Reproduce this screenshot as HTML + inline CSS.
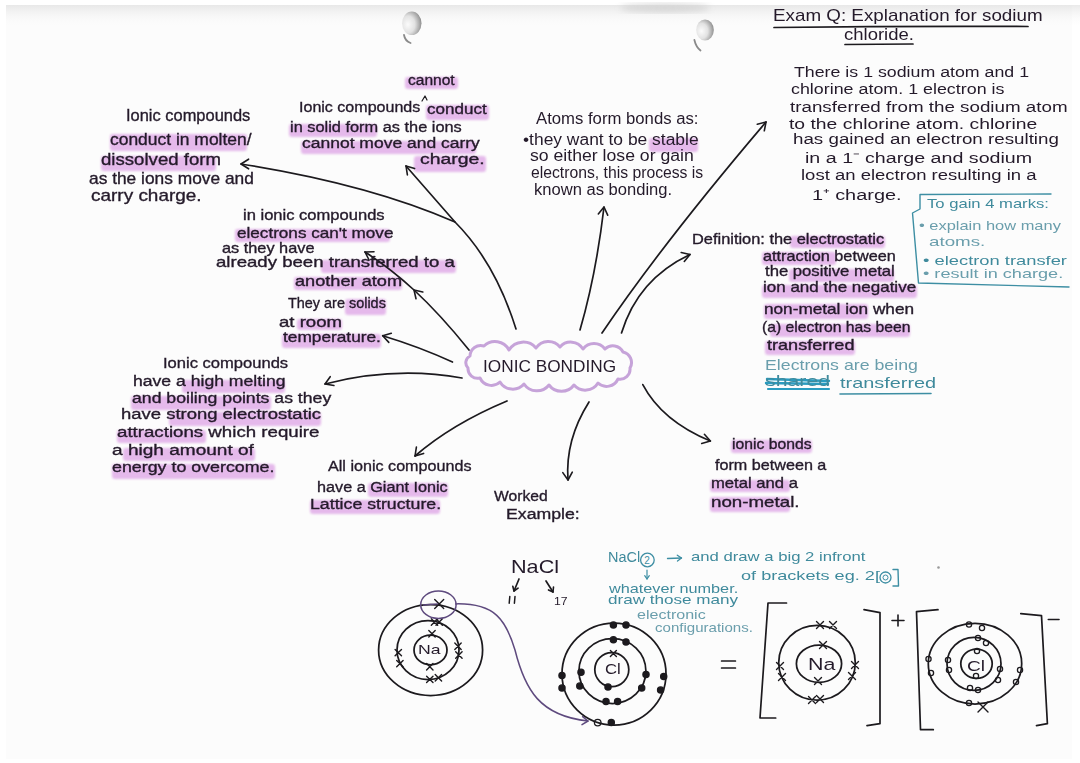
<!DOCTYPE html>
<html><head><meta charset="utf-8"><style>
html,body{margin:0;padding:0;}
body{width:1080px;height:763px;position:relative;overflow:hidden;background:#ffffff;font-family:'Liberation Sans', sans-serif;}
.t{position:absolute;white-space:pre;line-height:1;transform-origin:0 0;}
.b{-webkit-text-stroke:0.35px currentColor;}
.h{position:absolute;background:rgba(214,140,224,0.6);border-radius:3px;filter:blur(0.8px);}
svg{position:absolute;left:0;top:0;}
</style></head><body>

<div style="position:absolute;left:6px;top:5px;width:1066px;height:754px;background:#fcfcfc"></div>
<div class="h" style="left:110px;top:134.0px;width:137px;height:17.0px"></div>
<div class="h" style="left:101px;top:156.0px;width:115px;height:14.5px"></div>
<div class="h" style="left:405px;top:77.0px;width:53px;height:12.0px"></div>
<div class="h" style="left:426px;top:105.0px;width:63px;height:15.0px"></div>
<div class="h" style="left:289px;top:124.0px;width:88px;height:13.0px"></div>
<div class="h" style="left:301px;top:141.0px;width:175px;height:13.0px"></div>
<div class="h" style="left:414px;top:156.0px;width:72px;height:16.0px"></div>
<div class="h" style="left:235px;top:229.0px;width:155px;height:13.0px"></div>
<div class="h" style="left:321px;top:260.0px;width:135px;height:13.0px"></div>
<div class="h" style="left:294px;top:277.0px;width:108px;height:13.0px"></div>
<div class="h" style="left:345px;top:299.0px;width:41px;height:16.0px"></div>
<div class="h" style="left:297px;top:318.5px;width:45px;height:11.5px"></div>
<div class="h" style="left:282px;top:334.0px;width:99px;height:14.0px"></div>
<div class="h" style="left:649px;top:137.6px;width:49px;height:14.4px"></div>
<div class="h" style="left:790px;top:236.0px;width:95px;height:12.3px"></div>
<div class="h" style="left:762px;top:252.0px;width:74px;height:13.3px"></div>
<div class="h" style="left:789px;top:269.0px;width:105px;height:13.3px"></div>
<div class="h" style="left:762px;top:284.7px;width:155px;height:13.3px"></div>
<div class="h" style="left:764px;top:304.0px;width:104px;height:14.6px"></div>
<div class="h" style="left:770px;top:323.5px;width:140px;height:13.3px"></div>
<div class="h" style="left:765px;top:340.5px;width:90px;height:14.5px"></div>
<div class="h" style="left:182px;top:379.5px;width:103px;height:13.2px"></div>
<div class="h" style="left:131px;top:396.3px;width:140px;height:13.3px"></div>
<div class="h" style="left:169px;top:412.0px;width:152px;height:14.4px"></div>
<div class="h" style="left:117px;top:430.0px;width:89px;height:13.0px"></div>
<div class="h" style="left:123px;top:448.0px;width:132px;height:13.0px"></div>
<div class="h" style="left:112px;top:463.7px;width:163px;height:15.7px"></div>
<div class="h" style="left:368px;top:483.0px;width:80px;height:14.0px"></div>
<div class="h" style="left:310px;top:500.0px;width:130px;height:14.0px"></div>
<div class="h" style="left:731px;top:439.7px;width:81px;height:13.3px"></div>
<div class="h" style="left:710px;top:479.7px;width:80px;height:12.3px"></div>
<div class="h" style="left:710px;top:497.4px;width:80px;height:14.6px"></div>
<svg width="1080" height="763" viewBox="0 0 1080 763"><defs><radialGradient id="ph" cx="0.3" cy="0.55" r="0.8"><stop offset="0" stop-color="#fbfbfb"/><stop offset="0.45" stop-color="#e2e2e2"/><stop offset="0.8" stop-color="#a0a0a0"/><stop offset="1" stop-color="#6a6a6a"/></radialGradient><filter id="bl1"><feGaussianBlur stdDeviation="0.6"/></filter><filter id="bl"><feGaussianBlur stdDeviation="3"/></filter><linearGradient id="sh" x1="0" y1="0" x2="0" y2="1"><stop offset="0" stop-color="#cfcfcf"/><stop offset="1" stop-color="#fbfbfb" stop-opacity="0"/></linearGradient></defs><rect x="6" y="5" width="1074" height="22" fill="url(#sh)" opacity="0.45"/><ellipse cx="665" cy="8" rx="45" ry="5" fill="#c4c4c4" opacity="0.55" filter="url(#bl)"/><ellipse cx="411.8" cy="23.3" rx="9.7" ry="11.8" fill="url(#ph)" filter="url(#bl1)"/><ellipse cx="705" cy="30" rx="8.8" ry="10.6" fill="url(#ph)" filter="url(#bl1)"/><path d="M404,35 Q405,41 410.6,43" stroke="#8a8a8a" stroke-width="1.8" fill="none" stroke-linecap="round" stroke-linejoin="round" /><path d="M694.4,40 Q696,47 700.5,50.5" stroke="#8a8a8a" stroke-width="1.8" fill="none" stroke-linecap="round" stroke-linejoin="round" /><path d="M516,329 Q495,262 455,222 Q368,184 241,164" stroke="#1c1a1e" stroke-width="1.7" fill="none" stroke-linecap="round" stroke-linejoin="round" /><path d="M248.6,168.8 L241,164 L248.6,159.2" stroke="#1c1a1e" stroke-width="1.6" fill="none" stroke-linecap="round" stroke-linejoin="round" /><path d="M455,222 L406,166" stroke="#1c1a1e" stroke-width="1.7" fill="none" stroke-linecap="round" stroke-linejoin="round" /><path d="M407.4,174.9 L406,166 L414.6,168.6" stroke="#1c1a1e" stroke-width="1.6" fill="none" stroke-linecap="round" stroke-linejoin="round" /><path d="M469,350 Q440,314 414,290 Q390,268 365,252" stroke="#1c1a1e" stroke-width="1.7" fill="none" stroke-linecap="round" stroke-linejoin="round" /><path d="M369.1,260.0 L365,252 L374.0,251.8" stroke="#1c1a1e" stroke-width="1.6" fill="none" stroke-linecap="round" stroke-linejoin="round" /><path d="M416.0,298.8 L414,290 L422.8,292.0" stroke="#1c1a1e" stroke-width="1.6" fill="none" stroke-linecap="round" stroke-linejoin="round" /><path d="M452.5,362 Q420,347 382.7,335.7" stroke="#1c1a1e" stroke-width="1.7" fill="none" stroke-linecap="round" stroke-linejoin="round" /><path d="M388.8,342.4 L382.7,335.7 L391.3,333.2" stroke="#1c1a1e" stroke-width="1.6" fill="none" stroke-linecap="round" stroke-linejoin="round" /><path d="M462,378 Q395,366 325,384" stroke="#1c1a1e" stroke-width="1.7" fill="none" stroke-linecap="round" stroke-linejoin="round" /><path d="M333.9,385.5 L325,384 L330.2,376.7" stroke="#1c1a1e" stroke-width="1.6" fill="none" stroke-linecap="round" stroke-linejoin="round" /><path d="M507,401 Q452,424 415,456" stroke="#1c1a1e" stroke-width="1.7" fill="none" stroke-linecap="round" stroke-linejoin="round" /><path d="M423.6,453.4 L415,456 L416.4,447.1" stroke="#1c1a1e" stroke-width="1.6" fill="none" stroke-linecap="round" stroke-linejoin="round" /><path d="M589,402 Q565,440 568,480" stroke="#1c1a1e" stroke-width="1.7" fill="none" stroke-linecap="round" stroke-linejoin="round" /><path d="M572.3,472.1 L568,480 L562.8,472.6" stroke="#1c1a1e" stroke-width="1.6" fill="none" stroke-linecap="round" stroke-linejoin="round" /><path d="M642.8,384.6 Q662,421 710.4,441" stroke="#1c1a1e" stroke-width="1.7" fill="none" stroke-linecap="round" stroke-linejoin="round" /><path d="M704.4,434.3 L710.4,441 L701.7,443.5" stroke="#1c1a1e" stroke-width="1.6" fill="none" stroke-linecap="round" stroke-linejoin="round" /><path d="M580,330 Q596,275 604,207" stroke="#1c1a1e" stroke-width="1.7" fill="none" stroke-linecap="round" stroke-linejoin="round" /><path d="M598.3,213.9 L604,207 L607.7,215.2" stroke="#1c1a1e" stroke-width="1.6" fill="none" stroke-linecap="round" stroke-linejoin="round" /><path d="M602,333 Q663,243 766,122" stroke="#1c1a1e" stroke-width="1.7" fill="none" stroke-linecap="round" stroke-linejoin="round" /><path d="M757.3,124.3 L766,122 L764.3,130.8" stroke="#1c1a1e" stroke-width="1.6" fill="none" stroke-linecap="round" stroke-linejoin="round" /><path d="M621.5,333 Q638,279 690,254.5" stroke="#1c1a1e" stroke-width="1.7" fill="none" stroke-linecap="round" stroke-linejoin="round" /><path d="M681.2,252.5 L690,254.5 L684.3,261.5" stroke="#1c1a1e" stroke-width="1.6" fill="none" stroke-linecap="round" stroke-linejoin="round" /><path d="M470,356 A10.7,10.7 0 0 1 484,346 A15.7,15.7 0 0 1 509,350 A16.8,16.8 0 0 1 536,348 A14.9,14.9 0 0 1 560,347 A14.3,14.3 0 0 1 583,349 A13.6,13.6 0 0 1 605,349 A11.3,11.3 0 0 1 623,352 A10.8,10.8 0 0 1 630,368 A10.1,10.1 0 0 1 618,379 A12.6,12.6 0 0 1 598,383 A14.9,14.9 0 0 1 574,385 A15.5,15.5 0 0 1 549,385 A15.5,15.5 0 0 1 524,384 A14.9,14.9 0 0 1 500,382 A12.6,12.6 0 0 1 480,378 A9.7,9.7 0 0 1 468,368 A7.5,7.5 0 0 1 470,356 Z" stroke="#c6a3d9" stroke-width="3.0" fill="none" stroke-linecap="round" stroke-linejoin="round" /><path d="M774,27.5 Q900,26 1028,26.5" stroke="#1c1a1e" stroke-width="1.7" fill="none" stroke-linecap="round" stroke-linejoin="round" /><path d="M845,44.5 L913,44" stroke="#1c1a1e" stroke-width="1.7" fill="none" stroke-linecap="round" stroke-linejoin="round" /><path d="M1051,194 L920,194.5 L920,209 L912.5,213 L918.5,283 L1069,287" stroke="#3d8ea3" stroke-width="1.4" fill="none" stroke-linecap="round" stroke-linejoin="round" /><path d="M767,379 L829,381 M766,383 L828,384" stroke="#2a9cc0" stroke-width="2.4" fill="none" stroke-linecap="round" stroke-linejoin="round" /><path d="M768,389 L829,389" stroke="#2a9cc0" stroke-width="2.2" fill="none" stroke-linecap="round" stroke-linejoin="round" /><path d="M840,394 L931,393.5" stroke="#3d8ea3" stroke-width="1.6" fill="none" stroke-linecap="round" stroke-linejoin="round" /><circle cx="647.4" cy="560" r="6.8" stroke="#3d8ea3" stroke-width="1.3" fill="none"/><text x="644.3" y="564" font-family="Liberation Sans" font-size="10" fill="#3d8ea3">2</text><path d="M667.5,558.5 L681.5,558" stroke="#3d8ea3" stroke-width="1.3" fill="none" stroke-linecap="round" stroke-linejoin="round" /><path d="M677.3,555.2 L681.5,558 L677.5,561.0" stroke="#3d8ea3" stroke-width="1.3" fill="none" stroke-linecap="round" stroke-linejoin="round" /><path d="M647,570 L647,579" stroke="#3d8ea3" stroke-width="1.2" fill="none" stroke-linecap="round" stroke-linejoin="round" /><path d="M649.3,575.7 L647,579 L644.7,575.7" stroke="#3d8ea3" stroke-width="1.2" fill="none" stroke-linecap="round" stroke-linejoin="round" /><circle cx="885.5" cy="577.5" r="5.5" stroke="#3d8ea3" stroke-width="1.3" fill="none"/><circle cx="885.5" cy="577.5" r="2.5" stroke="#3d8ea3" stroke-width="1" fill="none"/><path d="M893,569.5 L898,569.5 L898.5,586 L893,586" stroke="#3d8ea3" stroke-width="1.4" fill="none" stroke-linecap="round" stroke-linejoin="round" /><circle cx="938.5" cy="567.5" r="1.3" fill="#999"/><path d="M422,101 L425,96 L427,100" stroke="#1c1a1e" stroke-width="1.2" fill="none" stroke-linecap="round" stroke-linejoin="round" /><path d="M509.8,596.5 L509.2,603.2 M515,596.5 L514.4,603.2" stroke="#1c1a1e" stroke-width="1.5" fill="none" stroke-linecap="round" stroke-linejoin="round" /><path d="M519,579 L514,591" stroke="#1c1a1e" stroke-width="1.7" fill="none" stroke-linecap="round" stroke-linejoin="round" /><path d="M518.1,588.2 L514,591 L512.8,586.2" stroke="#1c1a1e" stroke-width="1.6" fill="none" stroke-linecap="round" stroke-linejoin="round" /><path d="M546,581 L553,592" stroke="#1c1a1e" stroke-width="1.7" fill="none" stroke-linecap="round" stroke-linejoin="round" /><path d="M553.5,587.0 L553,592 L548.5,589.9" stroke="#1c1a1e" stroke-width="1.6" fill="none" stroke-linecap="round" stroke-linejoin="round" /><ellipse cx="430.6" cy="650" rx="52" ry="45.5" stroke="#1c1a1e" stroke-width="1.75" fill="none" transform="rotate(0 430.6 650)"/><ellipse cx="428" cy="650" rx="31" ry="29.5" stroke="#1c1a1e" stroke-width="1.75" fill="none" transform="rotate(0 428 650)"/><ellipse cx="430.5" cy="650" rx="16.5" ry="14.8" stroke="#1c1a1e" stroke-width="1.75" fill="none" transform="rotate(0 430.5 650)"/><path d="M431.3,618.8 L437.7,625.2 M437.7,618.8 L431.3,625.2" stroke="#1c1a1e" stroke-width="1.4" fill="none" stroke-linecap="round" stroke-linejoin="round" /><path d="M436.0,618.8 L442.4,625.2 M442.4,618.8 L436.0,625.2" stroke="#1c1a1e" stroke-width="1.4" fill="none" stroke-linecap="round" stroke-linejoin="round" /><path d="M428.8,630.5999999999999 L435.2,637.0 M435.2,630.5999999999999 L428.8,637.0" stroke="#1c1a1e" stroke-width="1.4" fill="none" stroke-linecap="round" stroke-linejoin="round" /><path d="M395.1,649.4 L401.5,655.8000000000001 M401.5,649.4 L395.1,655.8000000000001" stroke="#1c1a1e" stroke-width="1.4" fill="none" stroke-linecap="round" stroke-linejoin="round" /><path d="M396.7,660.4 L403.09999999999997,666.8000000000001 M403.09999999999997,660.4 L396.7,666.8000000000001" stroke="#1c1a1e" stroke-width="1.4" fill="none" stroke-linecap="round" stroke-linejoin="round" /><path d="M454.8,643.0999999999999 L461.2,649.5 M461.2,643.0999999999999 L454.8,649.5" stroke="#1c1a1e" stroke-width="1.4" fill="none" stroke-linecap="round" stroke-linejoin="round" /><path d="M455.7,651.8 L462.09999999999997,658.2 M462.09999999999997,651.8 L455.7,658.2" stroke="#1c1a1e" stroke-width="1.4" fill="none" stroke-linecap="round" stroke-linejoin="round" /><path d="M426.6,663.5999999999999 L433.0,670.0 M433.0,663.5999999999999 L426.6,670.0" stroke="#1c1a1e" stroke-width="1.4" fill="none" stroke-linecap="round" stroke-linejoin="round" /><path d="M426.6,676.1999999999999 L433.0,682.6 M433.0,676.1999999999999 L426.6,682.6" stroke="#1c1a1e" stroke-width="1.4" fill="none" stroke-linecap="round" stroke-linejoin="round" /><path d="M435.2,674.5999999999999 L441.59999999999997,681.0 M441.59999999999997,674.5999999999999 L435.2,681.0" stroke="#1c1a1e" stroke-width="1.4" fill="none" stroke-linecap="round" stroke-linejoin="round" /><path d="M434.7,599.4 L443.7,608.4 M443.7,599.4 L434.7,608.4" stroke="#1c1a1e" stroke-width="1.4" fill="none" stroke-linecap="round" stroke-linejoin="round" /><ellipse cx="438.4" cy="604.7" rx="17.7" ry="13.7" stroke="#5e4a7e" stroke-width="1.5" fill="none"/><path d="M455.7,603.9 C495,603 506,620 515,650 C525,690 540,716 588,721" stroke="#5e4a7e" stroke-width="1.5" fill="none" stroke-linecap="round" stroke-linejoin="round" /><path d="M582.6,716.6 L588,721 L582.0,724.6" stroke="#5e4a7e" stroke-width="1.5" fill="none" stroke-linecap="round" stroke-linejoin="round" /><path d="M423.5,605 L437.6,603.9" stroke="#5e4a7e" stroke-width="1.4" fill="none" stroke-linecap="round" stroke-linejoin="round" /><ellipse cx="614" cy="674" rx="52" ry="51" stroke="#1c1a1e" stroke-width="1.75" fill="none" transform="rotate(0 614 674)"/><ellipse cx="612.4" cy="671" rx="33.5" ry="32.5" stroke="#1c1a1e" stroke-width="1.75" fill="none" transform="rotate(0 612.4 671)"/><ellipse cx="611.8" cy="669.6" rx="17" ry="17" stroke="#1c1a1e" stroke-width="1.75" fill="none" transform="rotate(0 611.8 669.6)"/><circle cx="613.4" cy="625" r="3.1" stroke="#1c1a1e" stroke-width="1.3" fill="#1c1a1e"/><circle cx="626" cy="625" r="3.1" stroke="#1c1a1e" stroke-width="1.3" fill="#1c1a1e"/><circle cx="562" cy="675.4" r="3.1" stroke="#1c1a1e" stroke-width="1.3" fill="#1c1a1e"/><circle cx="562" cy="688" r="3.1" stroke="#1c1a1e" stroke-width="1.3" fill="#1c1a1e"/><circle cx="663.7" cy="676.5" r="3.1" stroke="#1c1a1e" stroke-width="1.3" fill="#1c1a1e"/><circle cx="660.6" cy="690" r="3.1" stroke="#1c1a1e" stroke-width="1.3" fill="#1c1a1e"/><circle cx="611.3" cy="722.6" r="3.1" stroke="#1c1a1e" stroke-width="1.3" fill="#1c1a1e"/><circle cx="613.4" cy="639.8" r="3.1" stroke="#1c1a1e" stroke-width="1.3" fill="#1c1a1e"/><circle cx="626" cy="641.9" r="3.1" stroke="#1c1a1e" stroke-width="1.3" fill="#1c1a1e"/><circle cx="581" cy="672.3" r="3.1" stroke="#1c1a1e" stroke-width="1.3" fill="#1c1a1e"/><circle cx="579.8" cy="686" r="3.1" stroke="#1c1a1e" stroke-width="1.3" fill="#1c1a1e"/><circle cx="646" cy="674.4" r="3.1" stroke="#1c1a1e" stroke-width="1.3" fill="#1c1a1e"/><circle cx="641.7" cy="688" r="3.1" stroke="#1c1a1e" stroke-width="1.3" fill="#1c1a1e"/><circle cx="606" cy="701.6" r="3.1" stroke="#1c1a1e" stroke-width="1.3" fill="#1c1a1e"/><circle cx="617.6" cy="701.6" r="3.1" stroke="#1c1a1e" stroke-width="1.3" fill="#1c1a1e"/><circle cx="608" cy="687" r="3.1" stroke="#1c1a1e" stroke-width="1.3" fill="#1c1a1e"/><circle cx="597.7" cy="722.6" r="3.3" stroke="#1c1a1e" stroke-width="1.3" fill="none"/><path d="M610.4,650.4 L616.4,656.4 M616.4,650.4 L610.4,656.4" stroke="#1c1a1e" stroke-width="1.4" fill="none" stroke-linecap="round" stroke-linejoin="round" /><path d="M721.6,661 L735.4,661 M721.6,668 L735.4,668" stroke="#1c1a1e" stroke-width="1.7" fill="none" stroke-linecap="round" stroke-linejoin="round" /><path d="M786.5,603 L768,603 L760,718 L775.7,718" stroke="#1c1a1e" stroke-width="1.7" fill="none" stroke-linecap="round" stroke-linejoin="round" /><path d="M864,609.7 L880,612.6 L880,723.7 L867,725.7" stroke="#1c1a1e" stroke-width="1.7" fill="none" stroke-linecap="round" stroke-linejoin="round" /><path d="M892,620.5 L904,620.5 M898,615 L898,626" stroke="#1c1a1e" stroke-width="1.6" fill="none" stroke-linecap="round" stroke-linejoin="round" /><ellipse cx="817" cy="662.7" rx="38.3" ry="37.3" stroke="#1c1a1e" stroke-width="1.75" fill="none" transform="rotate(0 817 662.7)"/><ellipse cx="819" cy="663.7" rx="22.6" ry="18.7" stroke="#1c1a1e" stroke-width="1.75" fill="none" transform="rotate(0 819 663.7)"/><path d="M816.5,621.5 L823.5,628.5 M823.5,621.5 L816.5,628.5" stroke="#1c1a1e" stroke-width="1.4" fill="none" stroke-linecap="round" stroke-linejoin="round" /><path d="M829.5,621.5 L836.5,628.5 M836.5,621.5 L829.5,628.5" stroke="#1c1a1e" stroke-width="1.4" fill="none" stroke-linecap="round" stroke-linejoin="round" /><path d="M819.5,641.5 L826.5,648.5 M826.5,641.5 L819.5,648.5" stroke="#1c1a1e" stroke-width="1.4" fill="none" stroke-linecap="round" stroke-linejoin="round" /><path d="M776.5,662.5 L783.5,669.5 M783.5,662.5 L776.5,669.5" stroke="#1c1a1e" stroke-width="1.4" fill="none" stroke-linecap="round" stroke-linejoin="round" /><path d="M778.5,673.5 L785.5,680.5 M785.5,673.5 L778.5,680.5" stroke="#1c1a1e" stroke-width="1.4" fill="none" stroke-linecap="round" stroke-linejoin="round" /><path d="M851.5,661.5 L858.5,668.5 M858.5,661.5 L851.5,668.5" stroke="#1c1a1e" stroke-width="1.4" fill="none" stroke-linecap="round" stroke-linejoin="round" /><path d="M848.5,672.5 L855.5,679.5 M855.5,672.5 L848.5,679.5" stroke="#1c1a1e" stroke-width="1.4" fill="none" stroke-linecap="round" stroke-linejoin="round" /><path d="M808.5,696.5 L815.5,703.5 M815.5,696.5 L808.5,703.5" stroke="#1c1a1e" stroke-width="1.4" fill="none" stroke-linecap="round" stroke-linejoin="round" /><path d="M816.5,695.5 L823.5,702.5 M823.5,695.5 L816.5,702.5" stroke="#1c1a1e" stroke-width="1.4" fill="none" stroke-linecap="round" stroke-linejoin="round" /><path d="M814.5,677.5 L821.5,684.5 M821.5,677.5 L814.5,684.5" stroke="#1c1a1e" stroke-width="1.4" fill="none" stroke-linecap="round" stroke-linejoin="round" /><path d="M938,609.7 L916.5,611.6 L920.5,729.7 L933.3,729.7" stroke="#1c1a1e" stroke-width="1.7" fill="none" stroke-linecap="round" stroke-linejoin="round" /><path d="M1020.8,613.6 L1041.5,615.6 L1047.4,723.7 L1036.5,725.7" stroke="#1c1a1e" stroke-width="1.7" fill="none" stroke-linecap="round" stroke-linejoin="round" /><path d="M1048.3,619.5 L1059,619.5" stroke="#1c1a1e" stroke-width="1.6" fill="none" stroke-linecap="round" stroke-linejoin="round" /><ellipse cx="975" cy="663.7" rx="46.7" ry="40.3" stroke="#1c1a1e" stroke-width="1.75" fill="none" transform="rotate(0 975 663.7)"/><ellipse cx="974" cy="663.8" rx="27" ry="26.5" stroke="#1c1a1e" stroke-width="1.75" fill="none" transform="rotate(0 974 663.8)"/><ellipse cx="976.5" cy="663.7" rx="15.7" ry="14.7" stroke="#1c1a1e" stroke-width="1.75" fill="none" transform="rotate(0 976.5 663.7)"/><circle cx="969" cy="624.5" r="2.6" stroke="#1c1a1e" stroke-width="1.3" fill="none"/><circle cx="982" cy="628" r="2.6" stroke="#1c1a1e" stroke-width="1.3" fill="none"/><circle cx="928.5" cy="659" r="2.6" stroke="#1c1a1e" stroke-width="1.3" fill="none"/><circle cx="931" cy="673" r="2.6" stroke="#1c1a1e" stroke-width="1.3" fill="none"/><circle cx="1020" cy="670" r="2.6" stroke="#1c1a1e" stroke-width="1.3" fill="none"/><circle cx="1016" cy="682" r="2.6" stroke="#1c1a1e" stroke-width="1.3" fill="none"/><circle cx="969" cy="703" r="2.6" stroke="#1c1a1e" stroke-width="1.3" fill="none"/><circle cx="978" cy="638" r="2.6" stroke="#1c1a1e" stroke-width="1.3" fill="none"/><circle cx="986" cy="643" r="2.6" stroke="#1c1a1e" stroke-width="1.3" fill="none"/><circle cx="948" cy="660" r="2.6" stroke="#1c1a1e" stroke-width="1.3" fill="none"/><circle cx="949" cy="670" r="2.6" stroke="#1c1a1e" stroke-width="1.3" fill="none"/><circle cx="1000" cy="669" r="2.6" stroke="#1c1a1e" stroke-width="1.3" fill="none"/><circle cx="998" cy="680" r="2.6" stroke="#1c1a1e" stroke-width="1.3" fill="none"/><circle cx="970" cy="688" r="2.6" stroke="#1c1a1e" stroke-width="1.3" fill="none"/><circle cx="978" cy="690" r="2.6" stroke="#1c1a1e" stroke-width="1.3" fill="none"/><circle cx="977" cy="651" r="2.6" stroke="#1c1a1e" stroke-width="1.3" fill="none"/><circle cx="976" cy="676" r="2.6" stroke="#1c1a1e" stroke-width="1.3" fill="none"/><path d="M978,702 L988,712 M988,702 L978,712" stroke="#1c1a1e" stroke-width="1.4" fill="none" stroke-linecap="round" stroke-linejoin="round" /></svg>
<div class="t b" style="left:126.4px;top:107.3px;font-size:17.00px;color:#241a2a;transform:scaleX(0.967)">Ionic compounds</div>
<div class="t b" style="left:110.3px;top:130.5px;font-size:17.00px;color:#241a2a;transform:scaleX(1.026)">conduct in molten/</div>
<div class="t b" style="left:101.3px;top:151.3px;font-size:17.00px;color:#241a2a;transform:scaleX(1.095)">dissolved form</div>
<div class="t b" style="left:89.3px;top:169.5px;font-size:17.00px;color:#241a2a;transform:scaleX(1.020)">as the ions move and</div>
<div class="t b" style="left:91.2px;top:186.8px;font-size:17.00px;color:#241a2a;transform:scaleX(1.115)">carry charge.</div>
<div class="t b" style="left:408.4px;top:71.9px;font-size:15.50px;color:#241a2a;transform:scaleX(1.003)">cannot</div>
<div class="t b" style="left:299.4px;top:98.7px;font-size:15.50px;color:#241a2a;transform:scaleX(1.035)">Ionic compounds</div>
<div class="t b" style="left:427.3px;top:101.4px;font-size:15.50px;color:#241a2a;transform:scaleX(1.100)">conduct</div>
<div class="t b" style="left:290.0px;top:119.4px;font-size:15.50px;color:#241a2a;transform:scaleX(1.055)">in solid form as the ions</div>
<div class="t b" style="left:302.3px;top:134.7px;font-size:15.50px;color:#241a2a;transform:scaleX(1.128)">cannot move and carry</div>
<div class="t b" style="left:420.2px;top:151.2px;font-size:15.50px;color:#241a2a;transform:scaleX(1.250)">charge.</div>
<div class="t b" style="left:243.0px;top:206.7px;font-size:15.00px;color:#241a2a;transform:scaleX(1.103)">in ionic compounds</div>
<div class="t b" style="left:237.3px;top:224.7px;font-size:15.00px;color:#241a2a;transform:scaleX(1.141)">electrons can't move</div>
<div class="t b" style="left:222.3px;top:240.0px;font-size:15.00px;color:#241a2a;transform:scaleX(1.087)">as they have</div>
<div class="t b" style="left:216.3px;top:254.0px;font-size:15.00px;color:#241a2a;transform:scaleX(1.240)">already been transferred to a</div>
<div class="t b" style="left:295.3px;top:272.7px;font-size:15.00px;color:#241a2a;transform:scaleX(1.211)">another atom</div>
<div class="t b" style="left:287.7px;top:294.5px;font-size:15.00px;color:#241a2a;transform:scaleX(0.962)">They are solids</div>
<div class="t b" style="left:279.3px;top:313.5px;font-size:15.00px;color:#241a2a;transform:scaleX(1.240)">at room</div>
<div class="t b" style="left:282.7px;top:328.5px;font-size:15.00px;color:#241a2a;transform:scaleX(1.151)">temperature.</div>
<div class="t" style="left:535.6px;top:111.4px;font-size:16.00px;color:#241a2a;transform:scaleX(1.044)">Atoms form bonds as:</div>
<div class="t" style="left:522.7px;top:131.7px;font-size:16.00px;color:#241a2a;transform:scaleX(1.089)">•they want to be stable</div>
<div class="t" style="left:529.8px;top:148.4px;font-size:16.00px;color:#241a2a;transform:scaleX(1.103)">so either lose or gain</div>
<div class="t" style="left:531.0px;top:164.6px;font-size:16.00px;color:#241a2a;transform:scaleX(0.983)">electrons, this process is</div>
<div class="t" style="left:533.6px;top:181.5px;font-size:16.00px;color:#241a2a;transform:scaleX(1.035)">known as bonding.</div>
<div class="t" style="left:772.5px;top:6.6px;font-size:17.00px;color:#241a2a;transform:scaleX(1.106)">Exam Q: Explanation for sodium</div>
<div class="t" style="left:844.0px;top:26.2px;font-size:17.00px;color:#241a2a;transform:scaleX(1.088)">chloride.</div>
<div class="t" style="left:793.6px;top:63.9px;font-size:15.20px;color:#241a2a;transform:scaleX(1.170)">There is 1 sodium atom and 1</div>
<div class="t" style="left:790.9px;top:81.0px;font-size:15.20px;color:#241a2a;transform:scaleX(1.176)">chlorine atom. 1 electron is</div>
<div class="t" style="left:790.4px;top:99.1px;font-size:15.20px;color:#241a2a;transform:scaleX(1.236)">transferred from the sodium atom</div>
<div class="t" style="left:789.0px;top:115.8px;font-size:15.20px;color:#241a2a;transform:scaleX(1.273)">to the chlorine atom. chlorine</div>
<div class="t" style="left:792.5px;top:130.7px;font-size:15.20px;color:#241a2a;transform:scaleX(1.235)">has gained an electron resulting</div>
<div class="t" style="left:804.8px;top:150.1px;font-size:15.20px;color:#241a2a;transform:scaleX(1.294)">in a 1⁻ charge and sodium</div>
<div class="t" style="left:800.9px;top:166.8px;font-size:15.20px;color:#241a2a;transform:scaleX(1.218)">lost an electron resulting in a</div>
<div class="t" style="left:812.4px;top:187.0px;font-size:15.20px;color:#241a2a;transform:scaleX(1.311)">1⁺ charge.</div>
<div class="t" style="left:927.2px;top:196.9px;font-size:13.00px;color:#3f8a9c;transform:scaleX(1.278)">To gain 4 marks:</div>
<div class="t" style="left:918.7px;top:219.4px;font-size:13.00px;color:#6a9eac;transform:scaleX(1.264)">• explain how many</div>
<div class="t" style="left:929.2px;top:235.2px;font-size:13.00px;color:#6a9eac;transform:scaleX(1.442)">atoms.</div>
<div class="t" style="left:923.3px;top:253.6px;font-size:13.00px;color:#3f8a9c;transform:scaleX(1.410)">• electron transfer</div>
<div class="t" style="left:923.3px;top:266.9px;font-size:13.00px;color:#6a9eac;transform:scaleX(1.393)">• result in charge.</div>
<div class="t b" style="left:692.0px;top:231.4px;font-size:15.00px;color:#241a2a;transform:scaleX(1.092)">Definition: the electrostatic</div>
<div class="t b" style="left:763.1px;top:247.9px;font-size:15.00px;color:#241a2a;transform:scaleX(1.083)">attraction between</div>
<div class="t b" style="left:764.7px;top:263.1px;font-size:15.00px;color:#241a2a;transform:scaleX(1.112)">the positive metal</div>
<div class="t b" style="left:762.7px;top:278.8px;font-size:15.00px;color:#241a2a;transform:scaleX(1.133)">ion and the negative</div>
<div class="t b" style="left:764.0px;top:300.5px;font-size:15.00px;color:#241a2a;transform:scaleX(1.146)">non-metal ion when</div>
<div class="t b" style="left:761.6px;top:319.4px;font-size:15.00px;color:#241a2a;transform:scaleX(1.048)">(a) electron has been</div>
<div class="t b" style="left:766.9px;top:337.0px;font-size:15.00px;color:#241a2a;transform:scaleX(1.206)">transferred</div>
<div class="t" style="left:764.6px;top:357.1px;font-size:15.00px;color:#6a9eac;transform:scaleX(1.183)">Electrons are being</div>
<div class="t" style="left:765.1px;top:372.7px;font-size:15.00px;color:#3f8a9c;transform:scaleX(1.419)">shared</div>
<div class="t" style="left:839.6px;top:375.0px;font-size:15.00px;color:#3f8a9c;transform:scaleX(1.326)">transferred</div>
<div class="t b" style="left:163.3px;top:355.2px;font-size:15.50px;color:#241a2a;transform:scaleX(1.068)">Ionic compounds</div>
<div class="t b" style="left:132.6px;top:373.3px;font-size:15.50px;color:#241a2a;transform:scaleX(1.135)">have a high melting</div>
<div class="t b" style="left:131.8px;top:390.1px;font-size:15.50px;color:#241a2a;transform:scaleX(1.139)">and boiling points as they</div>
<div class="t b" style="left:120.6px;top:406.4px;font-size:15.50px;color:#241a2a;transform:scaleX(1.191)">have strong electrostatic</div>
<div class="t b" style="left:117.3px;top:423.7px;font-size:15.50px;color:#241a2a;transform:scaleX(1.205)">attractions which require</div>
<div class="t b" style="left:112.2px;top:441.7px;font-size:15.50px;color:#241a2a;transform:scaleX(1.229)">a high amount of</div>
<div class="t b" style="left:112.3px;top:458.7px;font-size:15.50px;color:#241a2a;transform:scaleX(1.150)">energy to overcome.</div>
<div class="t b" style="left:327.8px;top:457.9px;font-size:15.50px;color:#241a2a;transform:scaleX(1.041)">All ionic compounds</div>
<div class="t b" style="left:317.0px;top:478.9px;font-size:15.50px;color:#241a2a;transform:scaleX(1.046)">have a Giant Ionic</div>
<div class="t b" style="left:309.6px;top:495.9px;font-size:15.50px;color:#241a2a;transform:scaleX(1.144)">Lattice structure.</div>
<div class="t b" style="left:494.4px;top:487.5px;font-size:15.50px;color:#241a2a;transform:scaleX(1.010)">Worked</div>
<div class="t b" style="left:505.6px;top:505.7px;font-size:15.50px;color:#241a2a;transform:scaleX(1.142)">Example:</div>
<div class="t b" style="left:732.1px;top:435.6px;font-size:15.00px;color:#241a2a;transform:scaleX(1.048)">ionic bonds</div>
<div class="t b" style="left:715.3px;top:457.2px;font-size:15.00px;color:#241a2a;transform:scaleX(1.077)">form between a</div>
<div class="t b" style="left:711.0px;top:475.1px;font-size:15.00px;color:#241a2a;transform:scaleX(1.109)">metal and a</div>
<div class="t b" style="left:710.9px;top:493.9px;font-size:15.00px;color:#241a2a;transform:scaleX(1.249)">non-metal.</div>
<div class="t" style="left:483.3px;top:357.6px;font-size:17.14px;color:#241a2a;transform:scaleX(1.006)">IONIC BONDING</div>
<div class="t" style="left:511.3px;top:557.5px;font-size:18.19px;color:#241a2a;transform:scaleX(1.189)">NaCl</div>
<div class="t" style="left:554.0px;top:596.1px;font-size:11.14px;color:#241a2a;transform:scaleX(1.099)">17</div>
<div class="t" style="left:418.4px;top:644.2px;font-size:12.86px;color:#241a2a;transform:scaleX(1.374)">Na</div>
<div class="t" style="left:605.0px;top:662.3px;font-size:14.44px;color:#241a2a;transform:scaleX(1.157)">Cl</div>
<div class="t" style="left:808.3px;top:657.4px;font-size:16.86px;color:#241a2a;transform:scaleX(1.270)">Na</div>
<div class="t" style="left:966.6px;top:658.0px;font-size:15.00px;color:#241a2a;transform:scaleX(1.276)">Cl</div>
<div class="t" style="left:607.5px;top:551.3px;font-size:13.89px;color:#3f8a9c;transform:scaleX(1.042)">NaCl</div>
<div class="t" style="left:691.3px;top:550.4px;font-size:13.00px;color:#3f8a9c;transform:scaleX(1.283)">and draw a big 2 infront</div>
<div class="t" style="left:741.3px;top:569.0px;font-size:13.00px;color:#3f8a9c;transform:scaleX(1.393)">of brackets eg. 2[</div>
<div class="t" style="left:608.7px;top:582.1px;font-size:13.00px;color:#3f8a9c;transform:scaleX(1.250)">whatever number.</div>
<div class="t" style="left:608.0px;top:593.4px;font-size:13.00px;color:#3f8a9c;transform:scaleX(1.314)">draw those many</div>
<div class="t" style="left:636.8px;top:608.4px;font-size:13.00px;color:#6a9eac;transform:scaleX(1.234)">electronic</div>
<div class="t" style="left:655.4px;top:621.1px;font-size:13.00px;color:#6a9eac;transform:scaleX(1.157)">configurations.</div>
</body></html>
